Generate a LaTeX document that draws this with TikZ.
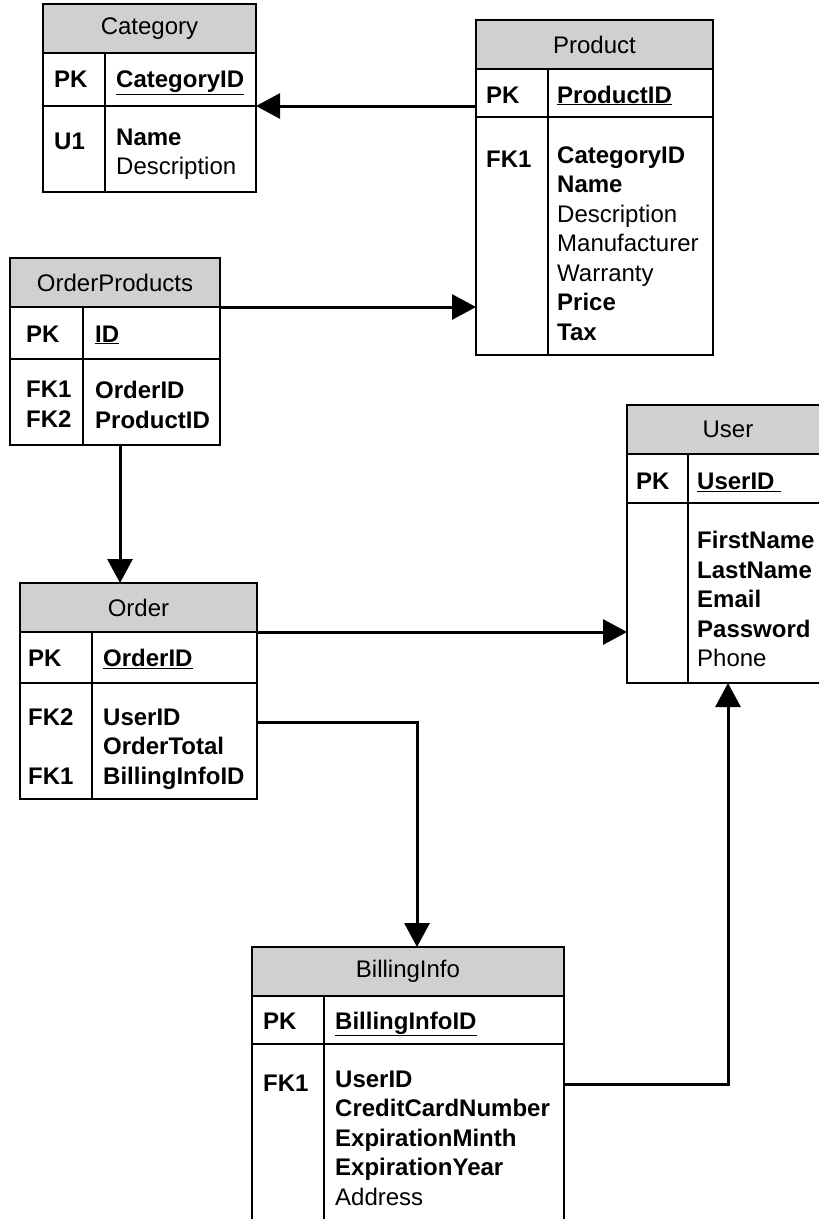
\documentclass[tikz,border=0pt]{standalone}
\usepackage{fontspec}
\setmainfont{Liberation Sans}
\usepackage{tikz}
\usetikzlibrary{positioning, arrows.meta}

\definecolor{headgray}{RGB}{208,208,208}

\tikzset{
  tabhead/.style={draw, line width=2pt, fill=headgray, anchor=north west,
    inner sep=0pt, outer sep=0pt, minimum height=49pt},
  tabrow/.style={draw, line width=2pt, inner sep=0pt, outer sep=0pt},
  tabline/.style={line width=2pt},
  keytxt/.style={anchor=north west, inner sep=0pt, align=left,
    execute at begin node=\strut, font=\bfseries\fontsize{24}{29.5}\selectfont},
  pktxt/.style={anchor=base west, inner sep=0pt,
    font=\bfseries\fontsize{24}{29.5}\selectfont},
  fldtxt/.style={anchor=north west, inner sep=0pt, align=left,
    execute at begin node=\strut},
  link/.style={line width=3pt, -{Triangle[length=24pt,width=25pt]}}
}

\begin{document}
\begin{tikzpicture}[x=1pt, y=1pt, font=\fontsize{24}{29.5}\selectfont]
  \useasboundingbox (0,0) rectangle (819,-1219);

  % Category
  \node[tabhead, minimum width=213pt] (cat) at (43,-4) {Category};
  \node[tabrow, minimum width=213pt, minimum height=53pt, below=0pt of cat] (catpk) {};
  \node[tabrow, minimum width=213pt, minimum height=86pt, below=0pt of catpk] (catrows) {};
  \draw[tabline] ([xshift=62pt]catpk.north west) -- ([xshift=62pt]catrows.south west);
  \node[pktxt] (catpkkey) at ([xshift=11pt, yshift=-8pt]catpk.west) {PK};
  \node[pktxt] (catpkfld) at ([xshift=73pt, yshift=-8pt]catpk.west) {\underline{CategoryID}};
  \node[keytxt] (catkeys) at ([xshift=11pt, yshift=-22.5pt]catrows.north west) {U1};
  \node[fldtxt] (catflds) at ([xshift=73pt, yshift=-22.5pt]catrows.north west)
    {\textbf{Name}\\Description};

  % Product
  \node[tabhead, minimum width=237pt] (prod) at (476,-20) {Product};
  \node[tabrow, minimum width=237pt, minimum height=48pt, below=0pt of prod] (prodpk) {};
  \node[tabrow, minimum width=237pt, minimum height=238pt, below=0pt of prodpk] (prodrows) {};
  \draw[tabline] ([xshift=72pt]prodpk.north west) -- ([xshift=72pt]prodrows.south west);
  \node[pktxt] (prodpkkey) at ([xshift=10pt, yshift=-10pt]prodpk.west) {PK};
  \node[pktxt] (prodpkfld) at ([xshift=81pt, yshift=-10pt]prodpk.west) {\underline{ProductID}};
  \node[keytxt] (prodkeys) at ([xshift=10pt, yshift=-29.5pt]prodrows.north west) {FK1};
  \node[fldtxt] (prodflds) at ([xshift=81pt, yshift=-29.5pt]prodrows.north west)
    {\textbf{CategoryID}\\\textbf{Name}\\Description\\Manufacturer\\Warranty\\\textbf{Price}\\\textbf{Tax}};

  % OrderProducts
  \node[tabhead, minimum width=210pt] (op) at (10,-258) {OrderProducts};
  \node[tabrow, minimum width=210pt, minimum height=52pt, below=0pt of op] (oppk) {};
  \node[tabrow, minimum width=210pt, minimum height=86pt, below=0pt of oppk] (oprows) {};
  \draw[tabline] ([xshift=73pt]oppk.north west) -- ([xshift=73pt]oprows.south west);
  \node[pktxt] (oppkkey) at ([xshift=16pt, yshift=-9pt]oppk.west) {PK};
  \node[pktxt] (oppkfld) at ([xshift=85pt, yshift=-9pt]oppk.west) {\underline{ID}};
  \node[keytxt] (opkeys) at ([xshift=16pt, yshift=-22pt]oprows.north west) {FK1\\FK2};
  \node[fldtxt] (opflds) at ([xshift=85pt, yshift=-22pt]oprows.north west)
    {\textbf{OrderID}\\\textbf{ProductID}};

  % Order
  \node[tabhead, minimum width=237pt] (ord) at (20,-583) {Order};
  \node[tabrow, minimum width=237pt, minimum height=51pt, below=0pt of ord] (ordpk) {};
  \node[tabrow, minimum width=237pt, minimum height=116pt, below=0pt of ordpk] (ordrows) {};
  \draw[tabline] ([xshift=72pt]ordpk.north west) -- ([xshift=72pt]ordrows.south west);
  \node[pktxt] (ordpkkey) at ([xshift=8pt, yshift=-9pt]ordpk.west) {PK};
  \node[pktxt] (ordpkfld) at ([xshift=83pt, yshift=-9pt]ordpk.west) {\underline{OrderID}};
  \node[keytxt] (ordkeys) at ([xshift=8pt, yshift=-25.5pt]ordrows.north west) {FK2\\\strut\\FK1};
  \node[fldtxt] (ordflds) at ([xshift=83pt, yshift=-25.5pt]ordrows.north west)
    {\textbf{UserID}\\\textbf{OrderTotal}\\\textbf{BillingInfoID}};

  % User
  \node[tabhead, minimum width=202pt] (user) at (627,-405) {User};
  \node[tabrow, minimum width=202pt, minimum height=49pt, below=0pt of user] (userpk) {};
  \node[tabrow, minimum width=202pt, minimum height=180pt, below=0pt of userpk] (userrows) {};
  \draw[tabline] ([xshift=61pt]userpk.north west) -- ([xshift=61pt]userrows.south west);
  \node[pktxt] (userpkkey) at ([xshift=9pt, yshift=-11pt]userpk.west) {PK};
  \node[pktxt] (userpkfld) at ([xshift=70pt, yshift=-11pt]userpk.west) {\underline{UserID\ }};
  \node[fldtxt] (userflds) at ([xshift=70pt, yshift=-28pt]userrows.north west)
    {\textbf{FirstName}\\\textbf{LastName}\\\textbf{Email}\\\textbf{Password}\\Phone};

  % BillingInfo
  \node[tabhead, minimum width=312pt] (bill) at (252,-947) {BillingInfo};
  \node[tabrow, minimum width=312pt, minimum height=48pt, below=0pt of bill] (billpk) {};
  \node[tabrow, minimum width=312pt, minimum height=200pt, below=0pt of billpk] (billrows) {};
  \draw[tabline] ([xshift=72pt]billpk.north west) -- ([xshift=72pt]billrows.south west);
  \node[pktxt] (billpkkey) at ([xshift=11pt, yshift=-9pt]billpk.west) {PK};
  \node[pktxt] (billpkfld) at ([xshift=83pt, yshift=-9pt]billpk.west) {\underline{BillingInfoID}};
  \node[keytxt] (billkeys) at ([xshift=11pt, yshift=-26.5pt]billrows.north west) {FK1};
  \node[fldtxt] (billflds) at ([xshift=83pt, yshift=-26.5pt]billrows.north west)
    {\textbf{UserID}\\\textbf{CreditCardNumber}\\\textbf{ExpirationMinth}\\\textbf{ExpirationYear}\\Address};

  % relations
  \draw[link] (prodpk.west |- catrows.north east) -- (catrows.north east);
  \draw[link] (op.south east) -- (prodrows.west |- op.south east);
  \draw[link] ([xshift=5pt]oprows.south) -- ([xshift=5pt]oprows.south |- ord.north);
  \draw[link] (ord.south east) -- (userrows.west |- ord.south east);
  \draw[link] ([yshift=-39pt]ordrows.north east) -| ([xshift=9pt]bill.north);
  \draw[link] ([yshift=-40pt]billrows.north east) -| (userrows.south);
\end{tikzpicture}
\end{document}
